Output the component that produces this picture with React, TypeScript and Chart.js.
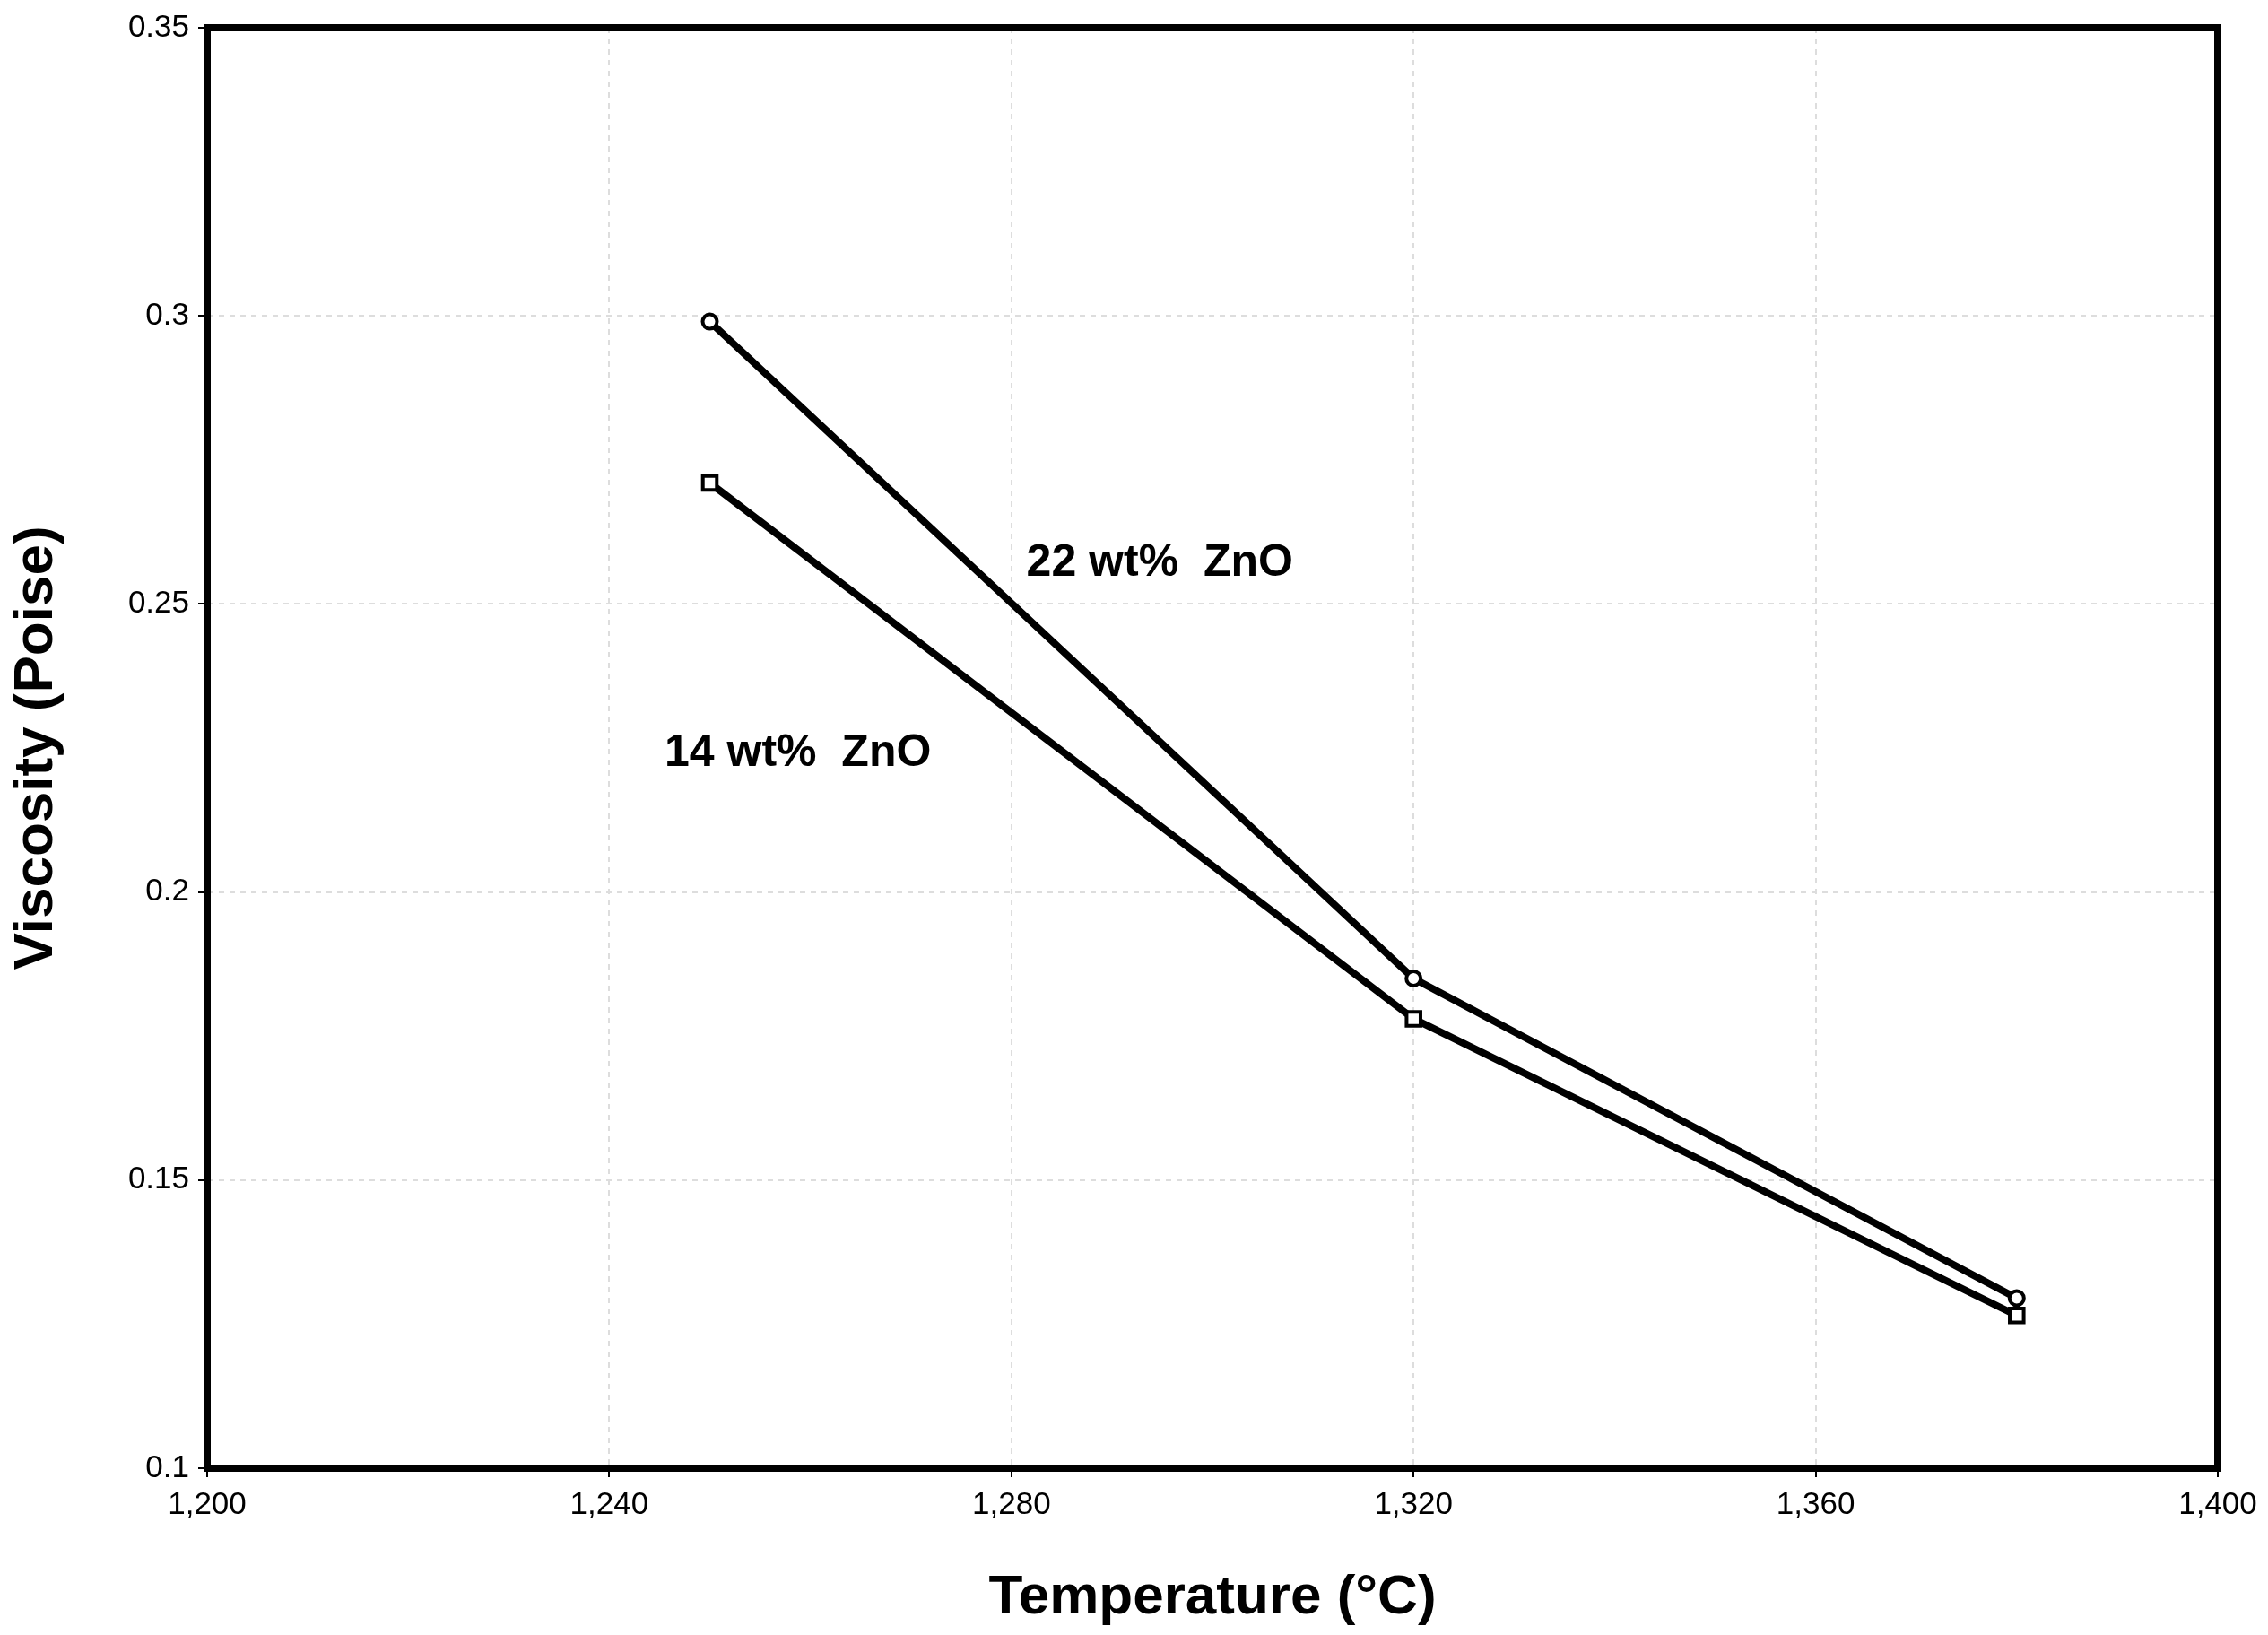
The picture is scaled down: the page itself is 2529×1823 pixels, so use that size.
import React, { useEffect, useRef } from "react";
import { Chart, registerables } from "chart.js";
Chart.register(...registerables);

const temps = [1250, 1320, 1380];
const zno22 = [0.299, 0.185, 0.1295];
const zno14 = [0.271, 0.178, 0.1265];
const labels = [
  { text: "22 wt%  ZnO", x: 1281.5, y: 0.257 },
  { text: "14 wt%  ZnO", x: 1245.5, y: 0.224 },
];

export default function App() {
  const ref = useRef<HTMLCanvasElement>(null);
  useEffect(() => {
    const font = "'Liberation Sans', Arial, sans-serif";
    const plugin = {
      id: "extras",
      afterDraw(c: any) {
        const { ctx, chartArea: a, scales } = c;
        ctx.save();
        ctx.lineWidth = 8;
        ctx.strokeStyle = "#000";
        ctx.strokeRect(a.left, a.top, a.right - a.left, a.bottom - a.top);
        ctx.fillStyle = "#000";
        ctx.font = `bold 50px ${font}`;
        ctx.textBaseline = "middle";
        for (const l of labels) {
          ctx.fillText(l.text, scales.x.getPixelForValue(l.x), scales.y.getPixelForValue(l.y));
        }
        ctx.restore();
      },
    };
    const mk = (label: string, data: number[], style: string, r: number) => ({
      label,
      data: temps.map((t, i) => ({ x: t, y: data[i] })),
      borderColor: "#000",
      borderWidth: 8,
      pointStyle: style,
      pointRadius: r,
      pointBorderWidth: 4,
      pointBackgroundColor: "#fff",
      pointBorderColor: "#000",
      showLine: true,
    });
    const chart = new Chart(ref.current!, {
      type: "scatter",
      data: { datasets: [mk("22 wt% ZnO", zno22, "circle", 8), mk("14 wt% ZnO", zno14, "rect", 11)] },
      plugins: [plugin],
      options: {
        animation: false,
        responsive: false,
        layout: { padding: { top: 23, right: 56 } },
        plugins: { legend: { display: false }, tooltip: { enabled: false } },
        scales: {
          x: {
            type: "linear", min: 1200, max: 1400,
            ticks: { stepSize: 40, color: "#000", font: { size: 35, family: font }, padding: 10 },
            grid: { color: "#ddd", lineWidth: 2, tickLength: 10, tickColor: "#000" } as any,
            border: { dash: [6, 6] } as any,
            title: { display: true, text: "Temperature (°C)", color: "#000", font: { size: 62, weight: "bold", family: font } },
            afterFit: (s: any) => { s.height = 186; },
          },
          y: {
            min: 0.1, max: 0.35,
            ticks: { stepSize: 0.05, color: "#000", font: { size: 35, family: font }, padding: 10,
              callback: (v: any) => String(Math.round(v * 100) / 100) },
            grid: { color: "#ddd", lineWidth: 2, tickLength: 10, tickColor: "#000" } as any,
            border: { dash: [6, 6] } as any,
            title: { display: true, text: "Viscosity (Poise)", color: "#000", font: { size: 62, weight: "bold", family: font } },
            afterFit: (s: any) => { s.width = 231; },
          },
        },
      } as any,
    });
    return () => chart.destroy();
  }, []);
  return (
    <div style={{ position: "absolute", left: 0, top: 0, width: 2529, height: 1823, background: "#fff" }}>
      <canvas ref={ref} width={2529} height={1823} />
    </div>
  );
}
